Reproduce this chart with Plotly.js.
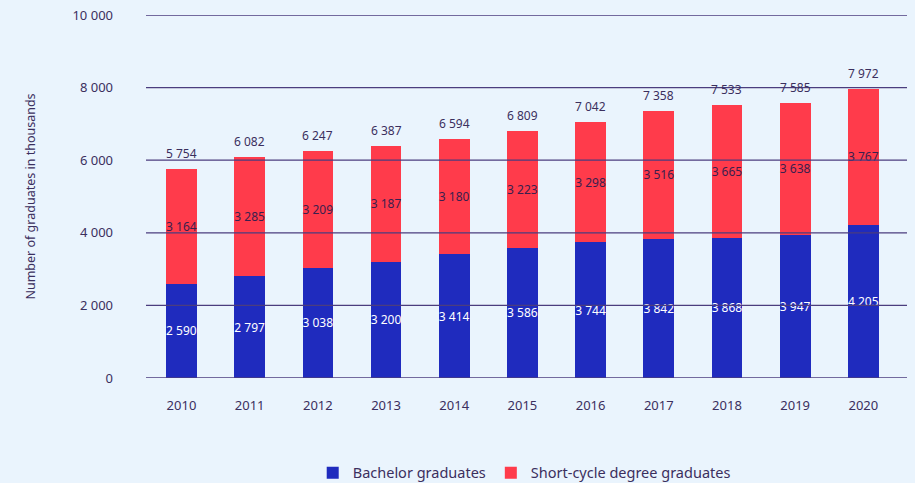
<!DOCTYPE html>
<html>
<head>
<meta charset="utf-8">
<script src="https://cdn.plot.ly/plotly-3.0.1.min.js"></script>
<style>html,body{margin:0;padding:0;background:#EAF4FD;}</style>
</head>
<body>
<div id="chart" style="width:915px;height:483px;"></div>
<script>
const years = ['2010','2011','2012','2013','2014','2015','2016','2017','2018','2019','2020'];
const bachelor = [2590, 2797, 3038, 3200, 3414, 3586, 3744, 3842, 3868, 3947, 4205];
const shortCycle = [3164, 3285, 3209, 3187, 3180, 3223, 3298, 3516, 3665, 3638, 3767];
const totals = [5754, 6082, 6247, 6387, 6594, 6809, 7042, 7358, 7533, 7585, 7972];
const yTicks = [0, 2000, 4000, 6000, 8000, 10000];
const yTickText = ['0', '2 000', '4 000', '6 000', '8 000', '10 000'];

const textColor = '#3B2F5E';
const gridColor = '#4B3D7E';
const font = 'Noto Sans, Open Sans, sans-serif';
const fmt = v => String(v).replace(/\B(?=(\d{3})+(?!\d))/g, ' ');

const traces = [
  {
    type: 'bar', name: 'Bachelor graduates', x: years, y: bachelor,
    marker: {color: '#1F2BBE'}, width: 0.45,
    text: bachelor.map(fmt), textposition: 'inside', insidetextanchor: 'middle',
    textangle: 0, constraintext: 'none',
    textfont: {color: '#FFFFFF', size: 12, family: font},
    hoverinfo: 'x+y'
  },
  {
    type: 'bar', name: 'Short-cycle degree graduates', x: years, y: shortCycle,
    marker: {color: '#FF3B4B'}, width: 0.45,
    text: shortCycle.map(fmt), textposition: 'inside', insidetextanchor: 'middle',
    textangle: 0, constraintext: 'none',
    textfont: {color: '#3A1F4E', size: 12, family: font},
    hoverinfo: 'x+y'
  }
];

const annotations = years.map((yr, i) => ({
  x: i, y: totals[i], xref: 'x', yref: 'y', text: fmt(totals[i]),
  showarrow: false, yanchor: 'bottom', yshift: 5,
  font: {size: 12, color: textColor, family: font}
}));

const shapes = yTicks.map(v => ({
  type: 'line', xref: 'paper', yref: 'y', x0: 0, x1: 1, y0: v, y1: v,
  line: {color: gridColor, width: 1.3}, layer: 'above'
}));

const layout = {
  width: 915, height: 483,
  paper_bgcolor: '#EAF4FD', plot_bgcolor: '#EAF4FD',
  font: {family: font, color: textColor, size: 13},
  barmode: 'stack',
  margin: {l: 146, r: 8, t: 15, b: 105, autoexpand: false},
  xaxis: {
    type: 'category', range: [-0.52, 10.64], showgrid: false, zeroline: false,
    showline: false, ticks: '', tickfont: {size: 13, color: textColor},
    ticklabelstandoff: 18
  },
  yaxis: {
    range: [0, 10000], tickvals: yTicks, ticktext: yTickText,
    showgrid: false, zeroline: false, showline: false, ticks: '',
    tickfont: {size: 13, color: textColor}, ticklabelstandoff: 32,
    title: {text: 'Number of graduates in thousands', font: {size: 12.5, color: textColor}, standoff: 34}
  },
  legend: {
    orientation: 'h', x: 0.497, xanchor: 'center', y: 0.021, yanchor: 'middle', yref: 'container',
    font: {size: 14.5, color: textColor}, traceorder: 'normal'
  },
  showlegend: true,
  annotations: annotations,
  shapes: shapes
};

Plotly.newPlot('chart', traces, layout, {displayModeBar: false, staticPlot: true});
</script>
</body>
</html>
